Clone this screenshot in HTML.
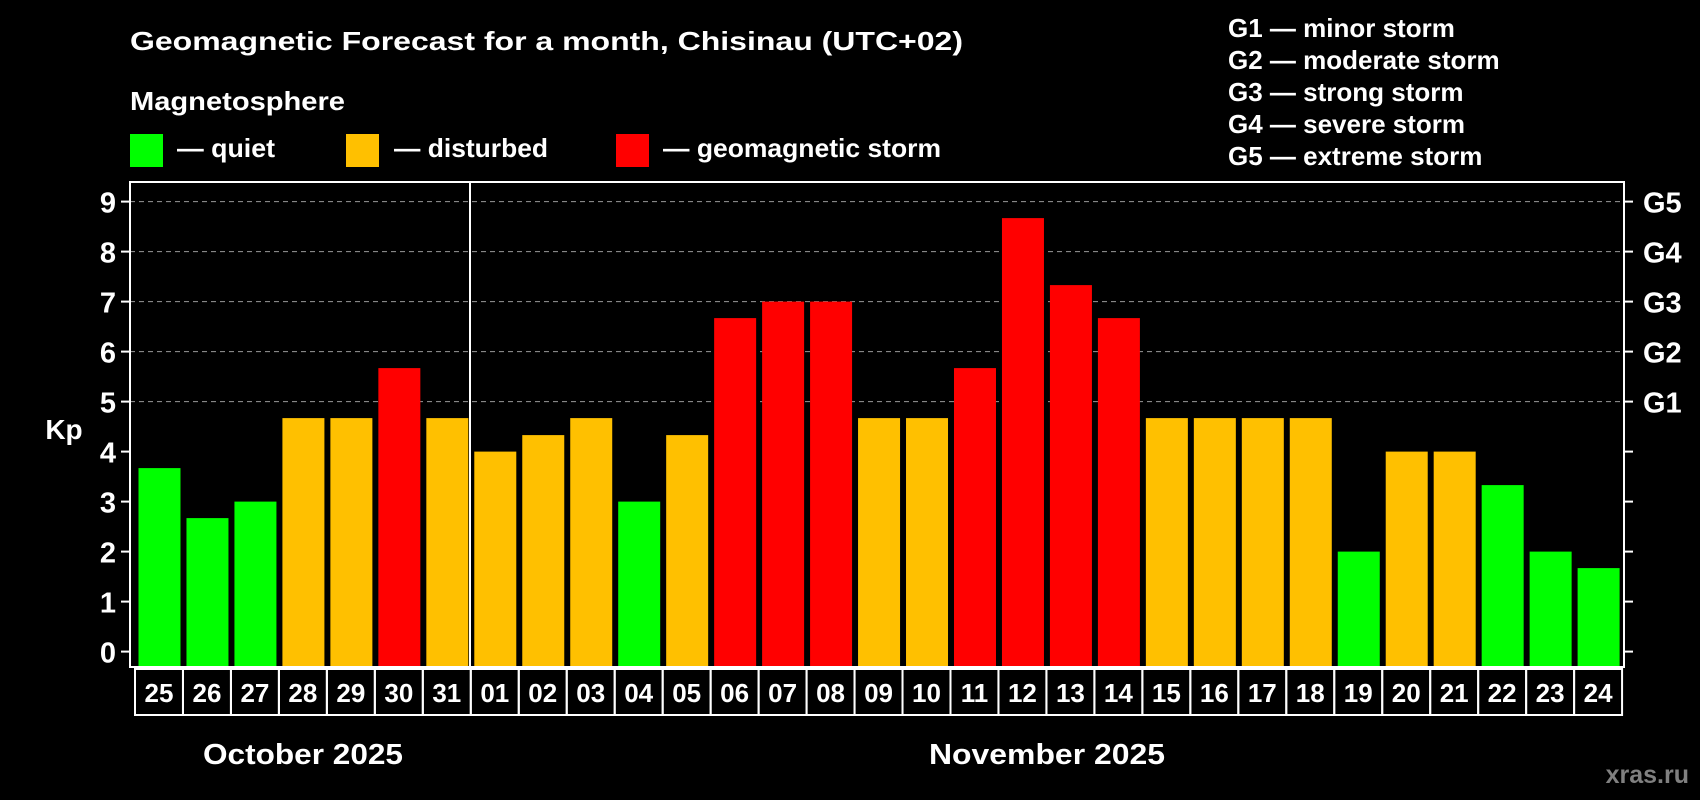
<!DOCTYPE html>
<html><head><meta charset="utf-8"><style>
html,body{margin:0;padding:0;background:#000;}
svg{display:block;font-family:"Liberation Sans",sans-serif;font-weight:bold;}
</style></head><body>
<svg id="c" width="1700" height="800" viewBox="0 0 1700 800">
<rect x="0" y="0" width="1700" height="800" fill="#000"/>
<text x="130" y="50" font-size="26" fill="#fff" textLength="833" lengthAdjust="spacingAndGlyphs">Geomagnetic Forecast for a month, Chisinau (UTC+02)</text>
<text x="130" y="110" font-size="26" fill="#fff" textLength="215" lengthAdjust="spacingAndGlyphs">Magnetosphere</text>
<g>
<rect x="130" y="134" width="33" height="33" fill="#00ff00"/>
<text x="177" y="157" font-size="26" fill="#fff" textLength="98" lengthAdjust="spacingAndGlyphs">— quiet</text></g>
<g>
<rect x="346" y="134" width="33" height="33" fill="#ffc000"/>
<text x="394" y="157" font-size="26" fill="#fff" textLength="154" lengthAdjust="spacingAndGlyphs">— disturbed</text></g>
<g>
<rect x="616" y="134" width="33" height="33" fill="#ff0000"/>
<text x="663" y="157" font-size="26" fill="#fff" textLength="278" lengthAdjust="spacingAndGlyphs">— geomagnetic storm</text></g>
<g font-size="26" fill="#fff">
<text x="1228" y="37">G1 — minor storm</text>
<text x="1228" y="69">G2 — moderate storm</text>
<text x="1228" y="101">G3 — strong storm</text>
<text x="1228" y="133">G4 — severe storm</text>
<text x="1228" y="165">G5 — extreme storm</text>
</g>
<text x="64" y="439" font-size="28" fill="#fff" text-anchor="middle">Kp</text>
<g id="grid"></g><g id="bars"></g><g id="axes"></g>
<text x="303" y="764" font-size="29" fill="#fff" text-anchor="middle" textLength="200" lengthAdjust="spacingAndGlyphs">October 2025</text>
<text x="1047" y="764" font-size="29" fill="#fff" text-anchor="middle" textLength="236" lengthAdjust="spacingAndGlyphs">November 2025</text>
<text x="1689" y="783" font-size="25" fill="#808080" text-anchor="end">xras.ru</text>
</svg>
<script>
const days = ["25","26","27","28","29","30","31","01","02","03","04","05","06","07","08","09","10","11","12","13","14","15","16","17","18","19","20","21","22","23","24"];
const kpValues = [3.67,2.67,3,4.67,4.67,5.67,4.67,4,4.33,4.67,3,4.33,6.67,7,7,4.67,4.67,5.67,8.67,7.33,6.67,4.67,4.67,4.67,4.67,2,4,4,3.33,2,1.67];
const yTicks = ["0","1","2","3","4","5","6","7","8","9"];
const gLabels = ["G1","G2","G3","G4","G5"];

const NS="http://www.w3.org/2000/svg";
const L=130,R=1624,T=182,B=667,Y0=651.6,PU=50,X0=138.5,PITCH=47.97,BW=42;
const y=v=>Y0-v*PU;
const x=i=>X0+i*PITCH;
function mk(tag,attrs,parent){const e=document.createElementNS(NS,tag);for(const k in attrs)e.setAttribute(k,attrs[k]);parent.appendChild(e);return e;}
const grid=document.getElementById('grid'),bars=document.getElementById('bars'),axes=document.getElementById('axes');
for(let v=5;v<=9;v++){
  const l=mk('line',{x1:L,x2:R,y1:y(v),y2:y(v),stroke:'#999','stroke-width':1,'stroke-dasharray':'5,4'},grid);
  
  
}
kpValues.forEach((v,i)=>{
  const col=v<4?'#00ff00':(v<5?'#ffc000':'#ff0000');
  const r=mk('rect',{x:x(i),y:y(v),width:BW,height:B-y(v),fill:col},bars);
  
  
});
const fr=mk('rect',{x:L,y:T,width:R-L,height:B-T,fill:'none',stroke:'#fff','stroke-width':2},axes);


const dv=mk('line',{x1:470,x2:470,y1:T,y2:B,stroke:'#fff','stroke-width':2},axes);


yTicks.forEach((t,i)=>{
  const v=+t;
  const a=mk('line',{x1:121,x2:L,y1:y(v),y2:y(v),stroke:'#fff','stroke-width':2},axes);
  
  
  const b=mk('line',{x1:R,x2:1633,y1:y(v),y2:y(v),stroke:'#fff','stroke-width':2},axes);
  
  
  const tx=mk('text',{x:116,y:y(v)+11,'font-size':29,fill:'#fff','text-anchor':'end'},axes);
  tx.textContent=t;
  
  
});
gLabels.forEach((g,i)=>{
  const tx=mk('text',{x:1643,y:y(5+i)+11,'font-size':29,fill:'#fff'},axes);
  tx.textContent=g;
  
  
});
days.forEach((d,i)=>{
  const bx=135+i*PITCH;
  const r=mk('rect',{x:bx,y:669,width:PITCH,height:46,fill:'none',stroke:'#fff','stroke-width':2},axes);
  
  
  const tx=mk('text',{x:bx+PITCH/2,y:702,'font-size':26,fill:'#fff','text-anchor':'middle'},axes);
  tx.textContent=d;
  
  
});
</script>
</body></html>
